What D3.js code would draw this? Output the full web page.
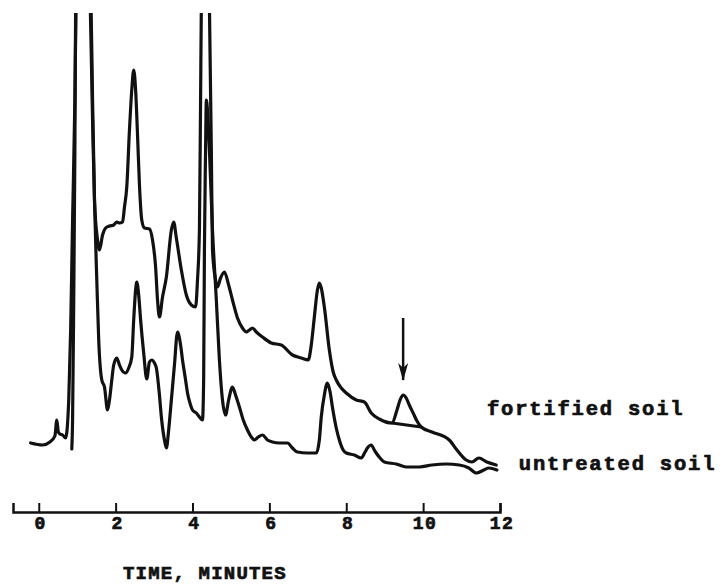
<!DOCTYPE html>
<html>
<head>
<meta charset="utf-8">
<script src="https://cdn.jsdelivr.net/npm/d3@7/dist/d3.min.js"></script>
<style>
  body { margin: 0; background: #fff; }
  svg { display: block; }
  .trace { fill: none; stroke: #111; stroke-width: 3.2; stroke-linejoin: round; stroke-linecap: round; }
  .lbl { font-family: "Liberation Mono", monospace; font-weight: bold; fill: #111; stroke: #111; stroke-width: 0.7px; }
</style>
</head>
<body>
<div id="chart"></div>
<script>
// [time (min), detector response (arbitrary units)]
const fortified = [
  [-0.21, 2.7], [0.10, 2.5], [0.29, 2.8], [0.42, 3.4], [0.47, 5.0], [0.51, 3.8], [0.55, 3.6],
  [0.62, 3.5], [0.70, 3.2], [0.78, 7.0], [0.83, 14.0], [0.88, 25.0], [0.94, 37.0], [0.97, 46.5],
  [1.16, 62.0], [1.34, 46.5], [1.40, 35.0], [1.45, 27.0], [1.53, 23.0], [1.58, 22.0], [1.66, 23.5],
  [1.74, 24.2], [1.84, 24.4], [1.95, 24.5], [2.03, 24.8], [2.10, 24.7], [2.18, 24.8], [2.23, 26.3],
  [2.29, 28.3], [2.36, 34.0], [2.42, 38.0], [2.47, 40.0], [2.52, 38.0], [2.57, 33.5], [2.62, 28.5],
  [2.68, 25.0], [2.75, 24.2], [2.88, 24.1], [2.96, 23.0], [3.04, 20.3], [3.09, 17.0], [3.14, 15.3],
  [3.22, 17.3], [3.32, 19.3], [3.45, 24.0], [3.51, 24.8], [3.58, 23.2], [3.71, 20.0], [3.84, 17.5],
  [3.97, 16.5], [4.08, 16.3], [4.13, 19.0], [4.18, 24.0], [4.21, 37.0], [4.23, 46.5], [4.34, 62.0],
  [4.44, 46.5], [4.49, 32.0], [4.52, 22.0], [4.60, 19.0], [4.65, 18.3], [4.73, 19.2], [4.83, 19.8],
  [4.94, 18.5], [5.04, 17.0], [5.17, 15.2], [5.30, 14.2], [5.40, 13.8], [5.48, 14.0], [5.56, 14.2],
  [5.66, 13.8], [5.82, 13.3], [6.05, 12.7], [6.31, 12.5], [6.60, 11.5], [6.83, 11.2], [7.01, 11.0],
  [7.09, 12.5], [7.17, 15.3], [7.25, 18.0], [7.30, 18.7], [7.35, 18.2], [7.43, 16.3], [7.56, 12.0],
  [7.66, 9.8], [7.74, 9.0], [7.87, 8.2], [8.00, 7.7], [8.26, 7.0], [8.47, 6.8], [8.65, 5.7],
  [8.86, 5.1], [9.19, 4.7], [9.32, 6.0], [9.40, 7.0], [9.48, 7.5], [9.56, 7.2], [9.64, 6.5],
  [9.74, 5.7], [9.84, 4.9], [9.95, 4.3], [10.23, 3.8], [10.68, 3.0], [10.88, 2.0], [11.12, 1.0],
  [11.27, 0.8], [11.45, 1.2], [11.66, 0.8], [11.90, 0.5]
];

const untreated = [
  [0.86, 2.1], [0.88, 5.0], [0.91, 17.0], [0.94, 32.0], [0.96, 46.5], [1.14, 62.0], [1.36, 46.5],
  [1.40, 37.0], [1.45, 27.0], [1.51, 19.0], [1.56, 13.0], [1.64, 9.0], [1.71, 8.3], [1.79, 6.0],
  [1.84, 7.0], [1.90, 9.0], [1.95, 10.5], [2.03, 11.2], [2.10, 10.5], [2.16, 10.0], [2.26, 9.7],
  [2.34, 10.2], [2.42, 11.3], [2.47, 15.0], [2.52, 18.0], [2.55, 18.8], [2.60, 17.5], [2.65, 15.0],
  [2.73, 11.7], [2.81, 9.1], [2.88, 10.8], [2.94, 11.0], [3.01, 10.7], [3.06, 10.2], [3.14, 7.5],
  [3.19, 5.3], [3.27, 3.0], [3.32, 2.2], [3.38, 4.0], [3.45, 7.0], [3.53, 10.5], [3.61, 13.8],
  [3.69, 12.5], [3.74, 11.0], [3.82, 9.0], [3.87, 7.7], [3.95, 6.5], [4.00, 6.0], [4.10, 5.7],
  [4.18, 5.3], [4.26, 5.0], [4.29, 9.0], [4.31, 22.0], [4.34, 32.0], [4.36, 37.0], [4.39, 36.0],
  [4.44, 32.0], [4.52, 24.0], [4.62, 17.0], [4.70, 11.0], [4.78, 7.0], [4.86, 5.5], [4.94, 7.0],
  [5.04, 8.3], [5.12, 7.5], [5.22, 6.3], [5.32, 5.0], [5.43, 4.0], [5.53, 3.3], [5.61, 3.0],
  [5.71, 3.3], [5.82, 3.5], [5.95, 3.0], [6.08, 2.8], [6.26, 2.7], [6.47, 2.7], [6.60, 2.2],
  [6.73, 1.8], [6.99, 1.7], [7.22, 1.7], [7.30, 3.0], [7.35, 5.3], [7.43, 7.5], [7.51, 8.7],
  [7.58, 7.8], [7.64, 6.3], [7.74, 4.2], [7.82, 3.0], [7.92, 2.0], [8.00, 1.7], [8.21, 1.5],
  [8.39, 1.2], [8.49, 1.8], [8.55, 2.2], [8.65, 2.5], [8.73, 2.0], [8.78, 1.7], [8.88, 1.2],
  [8.99, 0.8], [9.30, 0.6], [9.56, 0.3], [9.90, 0.3], [10.23, 0.5], [10.60, 0.6], [10.94, 0.5],
  [11.19, 0.2], [11.38, -0.3], [11.58, 0.0], [11.71, 0.2], [11.92, 0.0]
];

// baseline drawn under the marked peak
const peakBaseline = [[9.19, 4.7], [9.95, 4.3]];
// arrow pointing at the peak
const arrowTime = 9.48;
const arrowFrom = 15.2;
const arrowTo = 9.0;

const timeTicks = [0, 2, 4, 6, 8, 10, 12];
const traceLabels = [
  { text: 'fortified soil', t: 11.66, v: 5.5 },
  { text: 'untreated soil', t: 12.49, v: 0.0 }
];
const axisTitle = 'TIME, MINUTES';

const width = 726, height = 586;
const axisY = 512;

const svg = d3.select('#chart').append('svg')
  .attr('width', width)
  .attr('height', height);

const x = d3.scaleLinear().domain([-0.67, 12]).range([13, 500]);
const y = d3.scaleLinear().domain([0, 45.7]).range([470, 13]);

// traces run off the top of the paper
svg.append('defs').append('clipPath')
  .attr('id', 'paper')
  .append('rect')
  .attr('x', 0).attr('y', 13)
  .attr('width', width).attr('height', axisY - 13);

svg.select('defs').append('marker')
  .attr('id', 'head')
  .attr('markerUnits', 'userSpaceOnUse')
  .attr('markerWidth', 18)
  .attr('markerHeight', 12)
  .attr('viewBox', '0 0 18 12')
  .attr('refX', 17)
  .attr('refY', 6)
  .attr('orient', 'auto')
  .append('path')
  .attr('d', 'M0,1 L18,6 L0,11 L5,6 Z')
  .attr('fill', '#111');

const line = d3.line()
  .x(d => x(d[0]))
  .y(d => y(d[1]))
  .curve(d3.curveMonotoneX);

const plot = svg.append('g').attr('clip-path', 'url(#paper)');

plot.append('path').datum(fortified).attr('class', 'trace').attr('d', line);
plot.append('path').datum(untreated).attr('class', 'trace').attr('d', line);
plot.append('path').datum(peakBaseline).attr('class', 'trace')
  .attr('stroke-width', 2.5)
  .attr('d', d3.line().x(d => x(d[0])).y(d => y(d[1])));

svg.append('line')
  .attr('x1', x(arrowTime)).attr('x2', x(arrowTime))
  .attr('y1', y(arrowFrom)).attr('y2', y(arrowTo))
  .attr('stroke', '#111')
  .attr('stroke-width', 2.5)
  .attr('marker-end', 'url(#head)');

// time axis, ticks pointing up
const axis = svg.append('g')
  .attr('transform', `translate(0,${axisY})`)
  .call(d3.axisBottom(x)
    .tickValues(timeTicks)
    .tickSizeInner(-9)
    .tickSizeOuter(-9)
    .tickPadding(4)
    .tickFormat(d3.format('d')));

axis.select('.domain').attr('stroke', '#111').attr('stroke-width', 2.5);
axis.selectAll('.tick line').attr('stroke', '#111').attr('stroke-width', 2);
axis.selectAll('.tick text')
  .attr('class', 'lbl')
  .attr('font-size', 18)
  .attr('dx', '0.08em')
  .style('letter-spacing', '1.5px');

svg.append('text')
  .attr('class', 'lbl')
  .attr('x', 123)
  .attr('y', 579)
  .attr('font-size', 19)
  .style('letter-spacing', '1.2px')
  .text(axisTitle);

svg.selectAll('.trace-label')
  .data(traceLabels)
  .join('text')
  .attr('class', 'lbl trace-label')
  .attr('x', d => x(d.t))
  .attr('y', d => y(d.v))
  .attr('font-size', 20.5)
  .style('letter-spacing', '1.8px')
  .text(d => d.text);
</script>
</body>
</html>
